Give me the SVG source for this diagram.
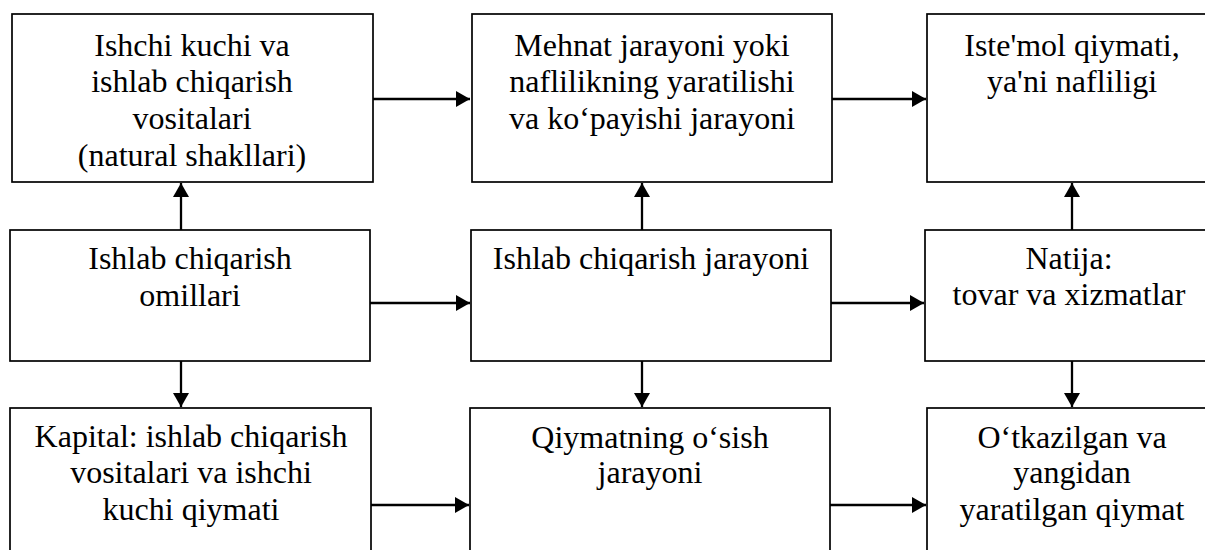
<svg xmlns="http://www.w3.org/2000/svg" width="1205" height="550" viewBox="0 0 1205 550">
<style>
.box{fill:#fff;stroke:#000;stroke-width:1.7}
.t{font-family:"Liberation Serif","Times New Roman",serif;font-size:32px;fill:#000;text-anchor:middle}
.c{stroke:#000;stroke-width:2.3;fill:none;marker-end:url(#ah)}
</style>
<defs>
<marker id="ah" markerUnits="userSpaceOnUse" viewBox="0 0 14 16" refX="14" refY="8" markerWidth="14" markerHeight="16" orient="auto">
<path d="M0,0 L14,8 L0,16 Z" fill="#000"/>
</marker>
</defs>
<rect width="1205" height="550" fill="#fff"/>
<g id="n1"><rect class="box" x="12" y="14" width="361" height="168"/>
<text class="t" x="192" y="56">Ishchi kuchi va</text>
<text class="t" x="192" y="92">ishlab chiqarish</text>
<text class="t" x="192" y="129">vositalari</text>
<text class="t" x="192" y="166">(natural shakllari)</text></g>
<g id="n2"><rect class="box" x="472" y="14" width="360" height="168"/>
<text class="t" x="652" y="56">Mehnat jarayoni yoki</text>
<text class="t" x="652" y="92">naflilikning yaratilishi</text>
<text class="t" x="652" y="129">va ko‘payishi jarayoni</text></g>
<g id="n3"><rect class="box" x="927" y="14" width="300" height="168"/>
<text class="t" x="1072" y="56">Iste'mol qiymati,</text>
<text class="t" x="1072" y="92">ya'ni nafliligi</text></g>
<g id="n4"><rect class="box" x="10" y="230" width="360" height="131"/>
<text class="t" x="190" y="269">Ishlab chiqarish</text>
<text class="t" x="190" y="306">omillari</text></g>
<g id="n5"><rect class="box" x="471" y="230" width="360" height="131"/>
<text class="t" x="651" y="269">Ishlab chiqarish jarayoni</text></g>
<g id="n6"><rect class="box" x="925" y="230" width="300" height="131"/>
<text class="t" x="1069" y="269">Natija:</text>
<text class="t" x="1069" y="305">tovar va xizmatlar</text></g>
<g id="n7"><rect class="box" x="10" y="408" width="361" height="160"/>
<text class="t" x="191" y="447">Kapital: ishlab chiqarish</text>
<text class="t" x="191" y="483">vositalari va ishchi</text>
<text class="t" x="191" y="520">kuchi qiymati</text></g>
<g id="n8"><rect class="box" x="470" y="408" width="360" height="160"/>
<text class="t" x="650" y="448">Qiymatning o‘sish</text>
<text class="t" x="650" y="483">jarayoni</text></g>
<g id="n9"><rect class="box" x="927" y="408" width="300" height="160"/>
<text class="t" x="1072" y="448">O‘tkazilgan va</text>
<text class="t" x="1072" y="483">yangidan</text>
<text class="t" x="1072" y="520">yaratilgan qiymat</text></g>
<g id="connectors">
<line class="c" x1="373" y1="99" x2="470" y2="99"/>
<line class="c" x1="832" y1="99" x2="926" y2="99"/>
<line class="c" x1="370" y1="303" x2="470" y2="303"/>
<line class="c" x1="831" y1="303" x2="924" y2="303"/>
<line class="c" x1="371" y1="505" x2="469" y2="505"/>
<line class="c" x1="830" y1="505" x2="926" y2="505"/>
<line class="c" x1="181" y1="230" x2="181" y2="183"/>
<line class="c" x1="181" y1="361" x2="181" y2="407"/>
<line class="c" x1="642" y1="230" x2="642" y2="183"/>
<line class="c" x1="642" y1="361" x2="642" y2="407"/>
<line class="c" x1="1072" y1="230" x2="1072" y2="183"/>
<line class="c" x1="1072" y1="361" x2="1072" y2="407"/>
</g>
</svg>
